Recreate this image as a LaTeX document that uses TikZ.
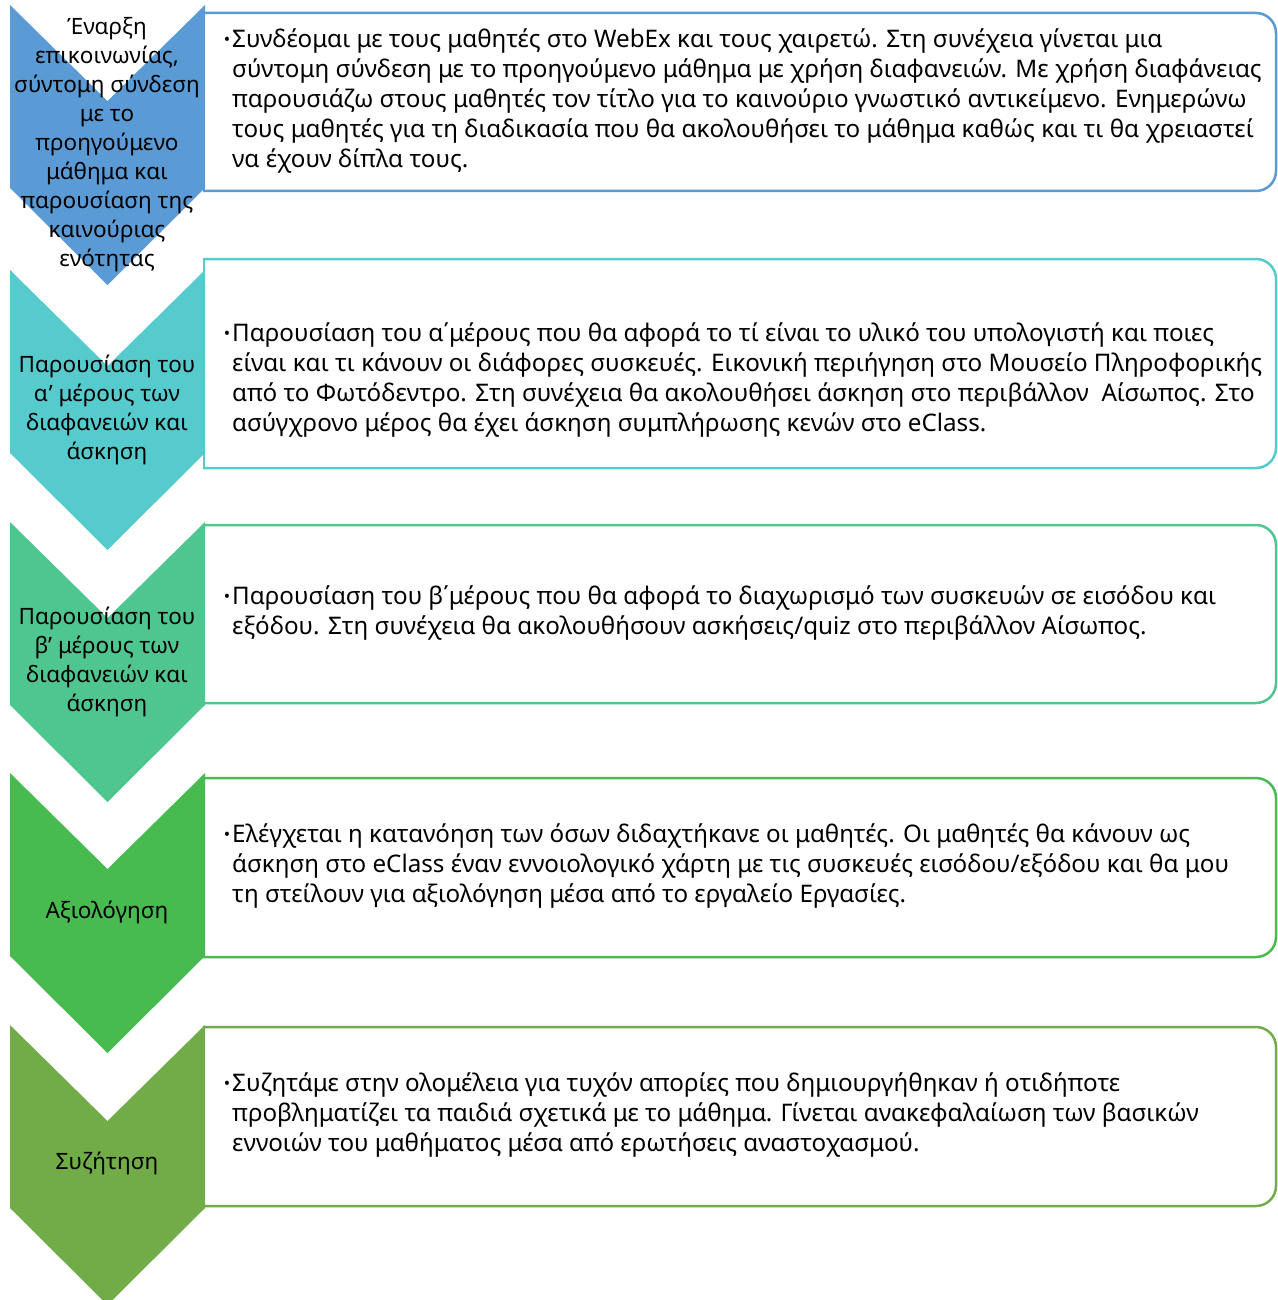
\documentclass[tikz,border=0pt]{standalone}
\usepackage{fontspec}
\setmainfont{Noto Sans}
\definecolor{stepA}{HTML}{5B9BD5}
\definecolor{stepB}{HTML}{55CBCD}
\definecolor{stepC}{HTML}{4FC590}
\definecolor{stepD}{HTML}{48BB50}
\definecolor{stepE}{HTML}{71AC48}
\newcommand{\bul}{\llap{\raisebox{1.5pt}{\fontsize{17}{17}\selectfont•}\hspace{2pt}}}
\tikzset{card/.style={line width=2.5pt,rounded corners=20pt,line cap=rect},side/.style={line width=2.5pt,line cap=rect},
  lbl/.style={align=center,inner sep=0pt,font=\fontsize{22.5}{29}\selectfont},
  txt/.style={align=left,anchor=west,inner sep=0pt,font=\fontsize{24.2}{30}\selectfont}}

\begin{document}
\begin{tikzpicture}[x=1pt,y=-1pt]
\useasboundingbox (0,0) rectangle (1277,1300);
% chevrons
\foreach \t/\c in {5/stepA,270/stepB,522/stepC,773/stepD,1025/stepE}
  \fill[\c] (10,\t) -- (107.5,\t+96) -- (205,\t) -- (205,\t+183) -- (107.5,\t+280) -- (10,\t+183) -- cycle;
% boxes
\draw[card,stepA] (204,191) -- (1276,191) -- (1276,13) -- (204,13);
\draw[side,stepA] (204,13) -- (204,191);
\draw[card,stepB] (204,468) -- (1276,468) -- (1276,259) -- (204,259);
\draw[side,stepB] (204,259) -- (204,468);
\draw[card,stepC] (204,703) -- (1276,703) -- (1276,525) -- (204,525);
\draw[side,stepC] (204,525) -- (204,703);
\draw[card,stepD] (204,957) -- (1276,957) -- (1276,778) -- (204,778);
\draw[side,stepD] (204,778) -- (204,957);
\draw[card,stepE] (204,1206) -- (1276,1206) -- (1276,1027) -- (204,1027);
\draw[side,stepE] (204,1027) -- (204,1206);
% chevron labels
\node[lbl] (s1) at (107,145) {Έναρξη\\επικοινωνίας,\\σύντομη σύνδεση\\με το\\προηγούμενο\\μάθημα και\\παρουσίαση της\\καινούριας\\ενότητας};
\node[lbl] (s2) at (107,410) {Παρουσίαση του\\α' μέρους των\\διαφανειών και\\άσκηση};
\node[lbl] (s3) at (107,662) {Παρουσίαση του\\β' μέρους των\\διαφανειών και\\άσκηση};
\node[lbl] (s4) at (107,912) {Αξιολόγηση};
\node[lbl] (s5) at (107,1163) {Συζήτηση};
% box texts
\node[txt] (t1) at (232,101) {\bul Συνδέομαι με τους μαθητές στο WebEx και τους χαιρετώ. Στη συνέχεια γίνεται μια\\σύντομη σύνδεση με το προηγούμενο μάθημα με χρήση διαφανειών. Με χρήση διαφάνειας\\παρουσιάζω στους μαθητές τον τίτλο για το καινούριο γνωστικό αντικείμενο. Ενημερώνω\\τους μαθητές για τη διαδικασία που θα ακολουθήσει το μάθημα καθώς και τι θα χρειαστεί\\να έχουν δίπλα τους.};
\node[txt] (t2) at (232,380) {\bul Παρουσίαση του α΄μέρους που θα αφορά το τί είναι το υλικό του υπολογιστή και ποιες\\είναι και τι κάνουν οι διάφορες συσκευές. Εικονική περιήγηση στο Μουσείο Πληροφορικής\\από το Φωτόδεντρο. Στη συνέχεια θα ακολουθήσει άσκηση στο περιβάλλον\ \ Αίσωπος. Στο\\ασύγχρονο μέρος θα έχει άσκηση συμπλήρωσης κενών στο eClass.};
\node[txt] (t3) at (232,613) {\bul Παρουσίαση του β΄μέρους που θα αφορά το διαχωρισμό των συσκευών σε εισόδου και\\εξόδου. Στη συνέχεια θα ακολουθήσουν ασκήσεις/quiz στο περιβάλλον Αίσωπος.};
\node[txt] (t4) at (232,866) {\bul Ελέγχεται η κατανόηση των όσων διδαχτήκανε οι μαθητές. Οι μαθητές θα κάνουν ως\\άσκηση στο eClass έναν εννοιολογικό χάρτη με τις συσκευές εισόδου/εξόδου και θα μου\\τη στείλουν για αξιολόγηση μέσα από το εργαλείο Εργασίες.};
\node[txt] (t5) at (232,1115) {\bul Συζητάμε στην ολομέλεια για τυχόν απορίες που δημιουργήθηκαν ή οτιδήποτε\\προβληματίζει τα παιδιά σχετικά με το μάθημα. Γίνεται ανακεφαλαίωση των βασικών\\εννοιών του μαθήματος μέσα από ερωτήσεις αναστοχασμού.};
\end{tikzpicture}
\end{document}
